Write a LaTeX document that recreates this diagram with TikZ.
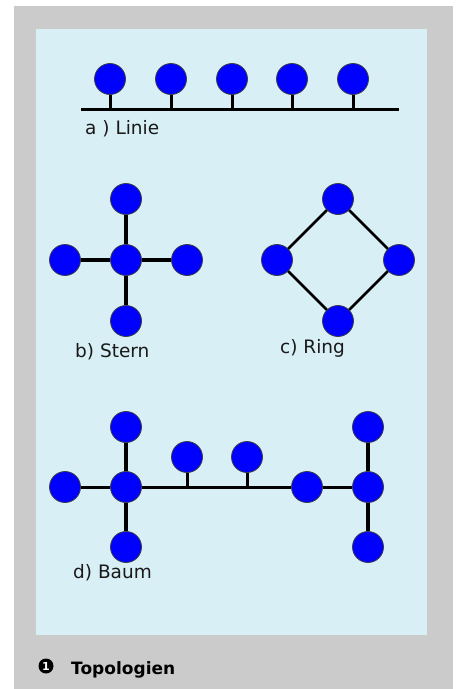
\documentclass[tikz,border=0pt]{standalone}
\usepackage{fontspec}
\setmainfont{DejaVu Sans}
\definecolor{frame}{RGB}{203,203,203}
\definecolor{panel}{RGB}{216,239,245}
\definecolor{nodeblue}{RGB}{0,0,255}
\definecolor{rim}{RGB}{60,60,70}
\definecolor{ink}{RGB}{25,25,25}
\tikzset{
  pc/.style={circle, fill=nodeblue, draw=rim, line width=0.8pt, minimum size=31pt, inner sep=0pt},
  wire/.style={line width=3pt, black},
  thickwire/.style={line width=4pt, black},
  ringwire/.style={line width=2.6pt, black},
  lbl/.style={anchor=base west, inner sep=0pt, text=ink, font=\fontsize{18.5}{22}\selectfont},
}
\begin{document}
\begin{tikzpicture}[x=1pt,y=-1pt]
  \useasboundingbox (0,0) rectangle (457,689);
  % frame and panel
  \fill[frame] (14,6) rectangle (453,689);
  \fill[panel] (36,29) rectangle (427,635);

  % a) line topology
  \coordinate (busL) at (81,109);
  \coordinate (busR) at (399,109);
  \foreach \i/\x in {1/110,2/171,3/232,4/292,5/353}
    \node[pc] (a\i) at (\x,79) {};
  \draw[wire] (busL) -- (busR);
  \foreach \i in {1,...,5}
    \draw[wire] (a\i) -- (a\i |- busL);
  \node[lbl] (la) at (85,134) {a ) Linie};

  % b) star topology
  \node[pc] (sc) at (126,260) {};
  \node[pc] (st) at (126,199) {};
  \node[pc] (sb) at (126,321) {};
  \node[pc] (sl) at (65,260) {};
  \node[pc] (sr) at (187,260) {};
  \foreach \n in {st,sb,sl,sr}
    \draw[thickwire] (sc) -- (\n);
  \node[lbl] (lb) at (75,357) {b) Stern};

  % c) ring topology
  \node[pc] (rt) at (338,199) {};
  \node[pc] (rl) at (277,260) {};
  \node[pc] (rr) at (399,260) {};
  \node[pc] (rb) at (338,321) {};
  \draw[ringwire] (rt) -- (rr);
  \draw[ringwire] (rr) -- (rb);
  \draw[ringwire] (rb) -- (rl);
  \draw[ringwire] (rl) -- (rt);
  \node[lbl] (lc) at (280,353) {c) Ring};

  % d) tree topology
  \node[pc] (tl)  at (65,487) {};
  \node[pc] (h1)  at (126,487) {};
  \node[pc] (h1t) at (126,427) {};
  \node[pc] (h1b) at (126,547) {};
  \node[pc] (s1)  at (187,457) {};
  \node[pc] (s2)  at (247,457) {};
  \node[pc] (tn)  at (307,487) {};
  \node[pc] (h2)  at (368,487) {};
  \node[pc] (h2t) at (368,427) {};
  \node[pc] (h2b) at (368,547) {};
  \draw[wire] (tl) -- (h1);
  \draw[wire] (h1) -- (tn);
  \draw[wire] (tn) -- (h2);
  \draw[wire] (s1) -- (s1 |- h1);
  \draw[wire] (s2) -- (s2 |- h1);
  \draw[thickwire] (h1) -- (h1t);
  \draw[thickwire] (h1) -- (h1b);
  \draw[thickwire] (h2) -- (h2t);
  \draw[thickwire] (h2) -- (h2b);
  \node[lbl] (ld) at (73,578) {d) Baum};

  % caption: numbered badge and title
  \node[circle, fill=black, inner sep=0pt, minimum size=15pt, text=white,
        font=\fontsize{11}{12}\selectfont\bfseries] (num) at (46,666) {1};
  \node[anchor=base west, inner sep=0pt, font=\fontsize{17}{20}\selectfont\bfseries] (cap) at (71,674) {Topologien};
\end{tikzpicture}
\end{document}
